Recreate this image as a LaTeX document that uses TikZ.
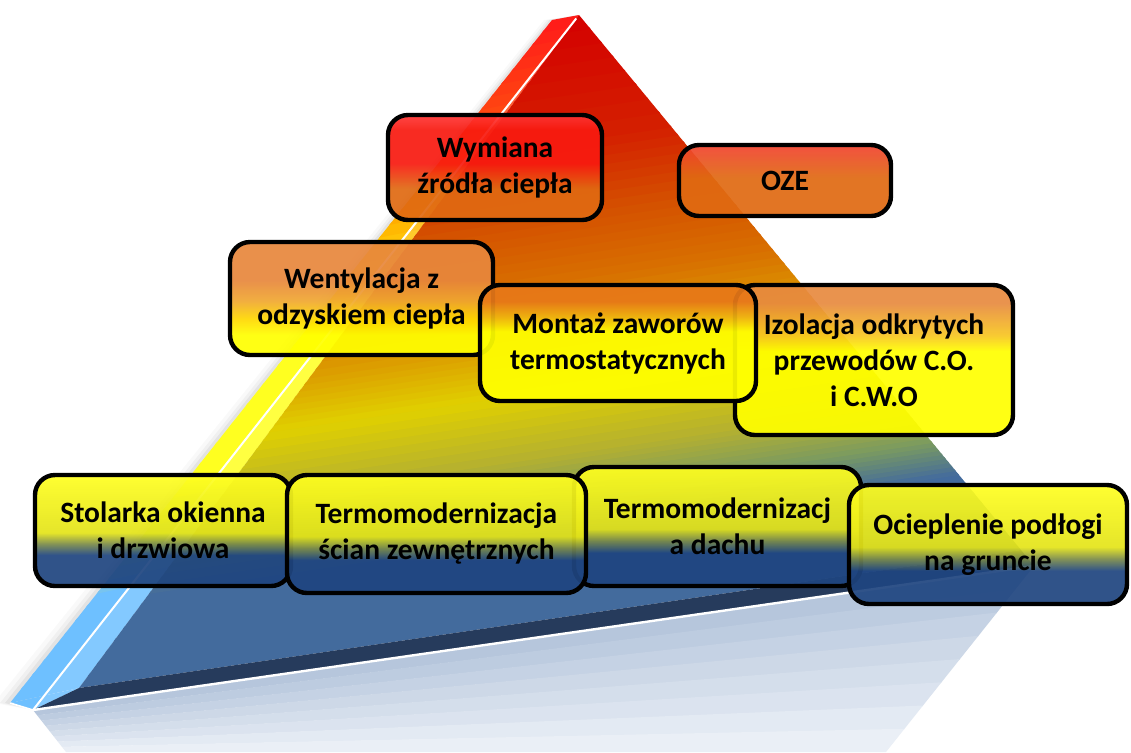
\documentclass[tikz,border=0pt]{standalone}
\usepackage{fontspec}
\setmainfont{Carlito}
\usetikzlibrary{calc}

% pyramid colours
\definecolor{fblue}{HTML}{436B9D}
\definecolor{folive}{HTML}{7A9A60}
\definecolor{fyolive}{HTML}{B4B030}
\definecolor{fyellow}{HTML}{E0D000}
\definecolor{fgold}{HTML}{DCA000}
\definecolor{forange}{HTML}{D87000}
\definecolor{fdorange}{HTML}{D45000}
\definecolor{fred2}{HTML}{D42000}
\definecolor{fred}{HTML}{D40000}
\definecolor{sblue}{HTML}{6EC0FF}
\definecolor{syellow}{HTML}{FFFF20}
\definecolor{sgold}{HTML}{FFB400}
\definecolor{sorange}{HTML}{FF4A10}
\definecolor{sred}{HTML}{FF1A1A}
\definecolor{dband}{HTML}{263B5C}
\definecolor{refltop}{HTML}{B2C3DA}
\definecolor{reflbot}{HTML}{EEF2F8}
% box colours
\definecolor{yel}{HTML}{FFFF00}
\definecolor{orbox}{HTML}{E06A12}
\definecolor{wymred}{HTML}{F81A10}
\definecolor{wymtop}{HTML}{FF3636}
\definecolor{ozetop}{HTML}{F24230}
\definecolor{wenttop}{HTML}{E8873C}
\definecolor{wentmid}{HTML}{F0A830}
\definecolor{wentyel}{HTML}{FFD800}
\definecolor{monttop}{HTML}{E87818}
\definecolor{montmid}{HTML}{F0B810}
\definecolor{izoltop}{HTML}{E88A40}
\definecolor{izolmid}{HTML}{F8C820}
\definecolor{bnavy}{HTML}{1F4580}
\definecolor{bolive}{HTML}{7A8A48}
\definecolor{byellow}{HTML}{E4E418}
\definecolor{byellowtop}{HTML}{FFFF20}

\pgfdeclareverticalshading{wymshade}{100bp}{color(0bp)=(orbox); color(40bp)=(orbox); color(52bp)=(wymred); color(68bp)=(wymred); color(75bp)=(wymtop); color(100bp)=(wymtop)}
\pgfdeclareverticalshading{ozeshade}{100bp}{color(0bp)=(orbox); color(52bp)=(orbox); color(75bp)=(ozetop); color(100bp)=(ozetop)}
\pgfdeclareverticalshading{wentshade}{100bp}{color(0bp)=(yel); color(34bp)=(yel); color(41bp)=(wentyel); color(49bp)=(wentmid); color(58bp)=(wenttop); color(100bp)=(wenttop)}
\pgfdeclareverticalshading{montshade}{100bp}{color(0bp)=(yel); color(55bp)=(yel); color(61bp)=(montmid); color(68bp)=(monttop); color(100bp)=(monttop)}
\pgfdeclareverticalshading{izolshade}{100bp}{color(0bp)=(yel); color(53bp)=(yel); color(58bp)=(izolmid); color(69bp)=(izoltop); color(100bp)=(izoltop)}
\pgfdeclareverticalshading{lowshade}{100bp}{color(0bp)=(bnavy); color(39bp)=(bnavy); color(44bp)=(bolive); color(49bp)=(byellow); color(75bp)=(byellowtop); color(100bp)=(byellowtop)}

% strips between two edges, colour mixed along t
\newcommand{\bandfill}[5]{%
  \foreach \ta/\tb/\ca/\cb in {#5} {%
    \foreach \k in {0,...,7} {%
      \pgfmathsetmacro{\bandu}{\ta+(\tb-\ta)*\k/8}%
      \pgfmathsetmacro{\bandv}{min(1,\ta+(\tb-\ta)*(\k+1)/8+0.004)}%
      \pgfmathtruncatemacro{\bandmix}{100-(\k+0.5)*12.5}%
      \fill[\ca!\bandmix!\cb] ($(#1)!\bandu!(#2)$) -- ($(#1)!\bandv!(#2)$) -- ($(#3)!\bandv!(#4)$) -- ($(#3)!\bandu!(#4)$) -- cycle;%
    }%
  }%
}

\begin{document}
\begin{tikzpicture}[x=0.5pt, y=-0.5pt,
    box/.style={shade, rounded corners=10pt, draw=black, line width=2.2pt, fill opacity=0.92, text opacity=1, align=center, inner sep=0pt, font=\fontsize{14.75}{18}\selectfont\bfseries}
]
    \fill[white] (0,0) rectangle (1131,752);
    \useasboundingbox (0,0) rectangle (1131,752);

    % Pyramid corners
    \coordinate (A) at (579,15);
    \coordinate (L) at (33,710);
    \coordinate (R) at (1034,566);
    \coordinate (F1) at (79,688);
    \coordinate (F2) at (1021,550);
    \coordinate (O1) at (10,703);
    \coordinate (O2) at (552,20);
    \coordinate (Lb) at (66,752);
    \coordinate (Rb) at (886,752);

    % Reflection and shadow
    \bandfill{L}{Lb}{R}{Rb}{0/1/refltop/reflbot}
    \foreach \d/\op in {16/0.025, 10/0.035, 5/0.05}
        \fill[black, opacity=\op] ($(O1)+(-\d,0)$) -- ($(O2)+(-\d*0.5,0)$) -- (A) -- (L) -- cycle;

    % Side strip
    \fill[sblue] (O1) -- (L) -- (F1) -- cycle;
    \bandfill{O1}{O2}{F1}{A}{0/0.16/sblue/sblue, 0.16/0.32/sblue/syellow, 0.32/0.55/syellow/syellow, 0.55/0.70/syellow/sgold, 0.70/0.85/sgold/sorange, 0.85/1/sorange/sred}
    \fill[white, opacity=0.15] (L) -- (A) -- (F1) -- cycle;

    % Front face
    \bandfill{F1}{A}{F2}{A}{0/0.14/fblue/fblue, 0.14/0.20/fblue/folive, 0.20/0.27/folive/fyolive, 0.27/0.38/fyolive/fyellow, 0.38/0.46/fyellow/fgold, 0.46/0.56/fgold/forange, 0.56/0.67/forange/fdorange, 0.67/0.79/fdorange/fred2, 0.79/1/fred2/fred}
    \fill[dband] (L) -- (F1) -- (F2) -- (R) -- cycle;
    \draw[white, line width=1.2pt] (L) -- (R);
    \draw[white, line width=1pt] (L) -- ($(L)!0.995!(A)$);
    \draw[white, line width=0.8pt] (O1) -- (L);

    % Boxes
    \node[box, shading=wentshade, minimum width=131.5pt, minimum height=56.5pt] (went) at (361.5,298.5) {Wentylacja z\\odzyskiem ciepła};
    \node[box, shading=izolshade, minimum width=139pt, minimum height=75pt] (izol) at (874,360) {Izolacja odkrytych\\przewodów C.O.\\i C.W.O};
    \node[box, shading=montshade, minimum width=138pt, minimum height=58pt] (mont) at (618,343) {Montaż zaworów\\termostatycznych};
    \node[box, shading=wymshade, minimum width=107pt, minimum height=52.5pt] (wym) at (495,167.5) {Wymiana\\źródła ciepła};
    \node[box, shading=ozeshade, minimum width=106pt, minimum height=35.5pt] (oze) at (785,180.5) {OZE};

    \node[box, shading=lowshade, minimum width=128pt, minimum height=55.5pt] (stol) at (163,530.5) {Stolarka okienna\\i drzwiowa};
    \node[box, shading=lowshade, minimum width=143.5pt, minimum height=59.5pt] (dach) at (717.5,526.5) {Termomodernizacj\\a dachu};
    \node[box, shading=lowshade, minimum width=149.5pt, minimum height=59pt] (scian) at (436.5,534) {Termomodernizacja\\ścian zewnętrznych};
    \node[box, shading=lowshade, minimum width=139pt, minimum height=59.5pt] (ociep) at (988,544.5) {Ocieplenie podłogi\\na gruncie};
\end{tikzpicture}
\end{document}
